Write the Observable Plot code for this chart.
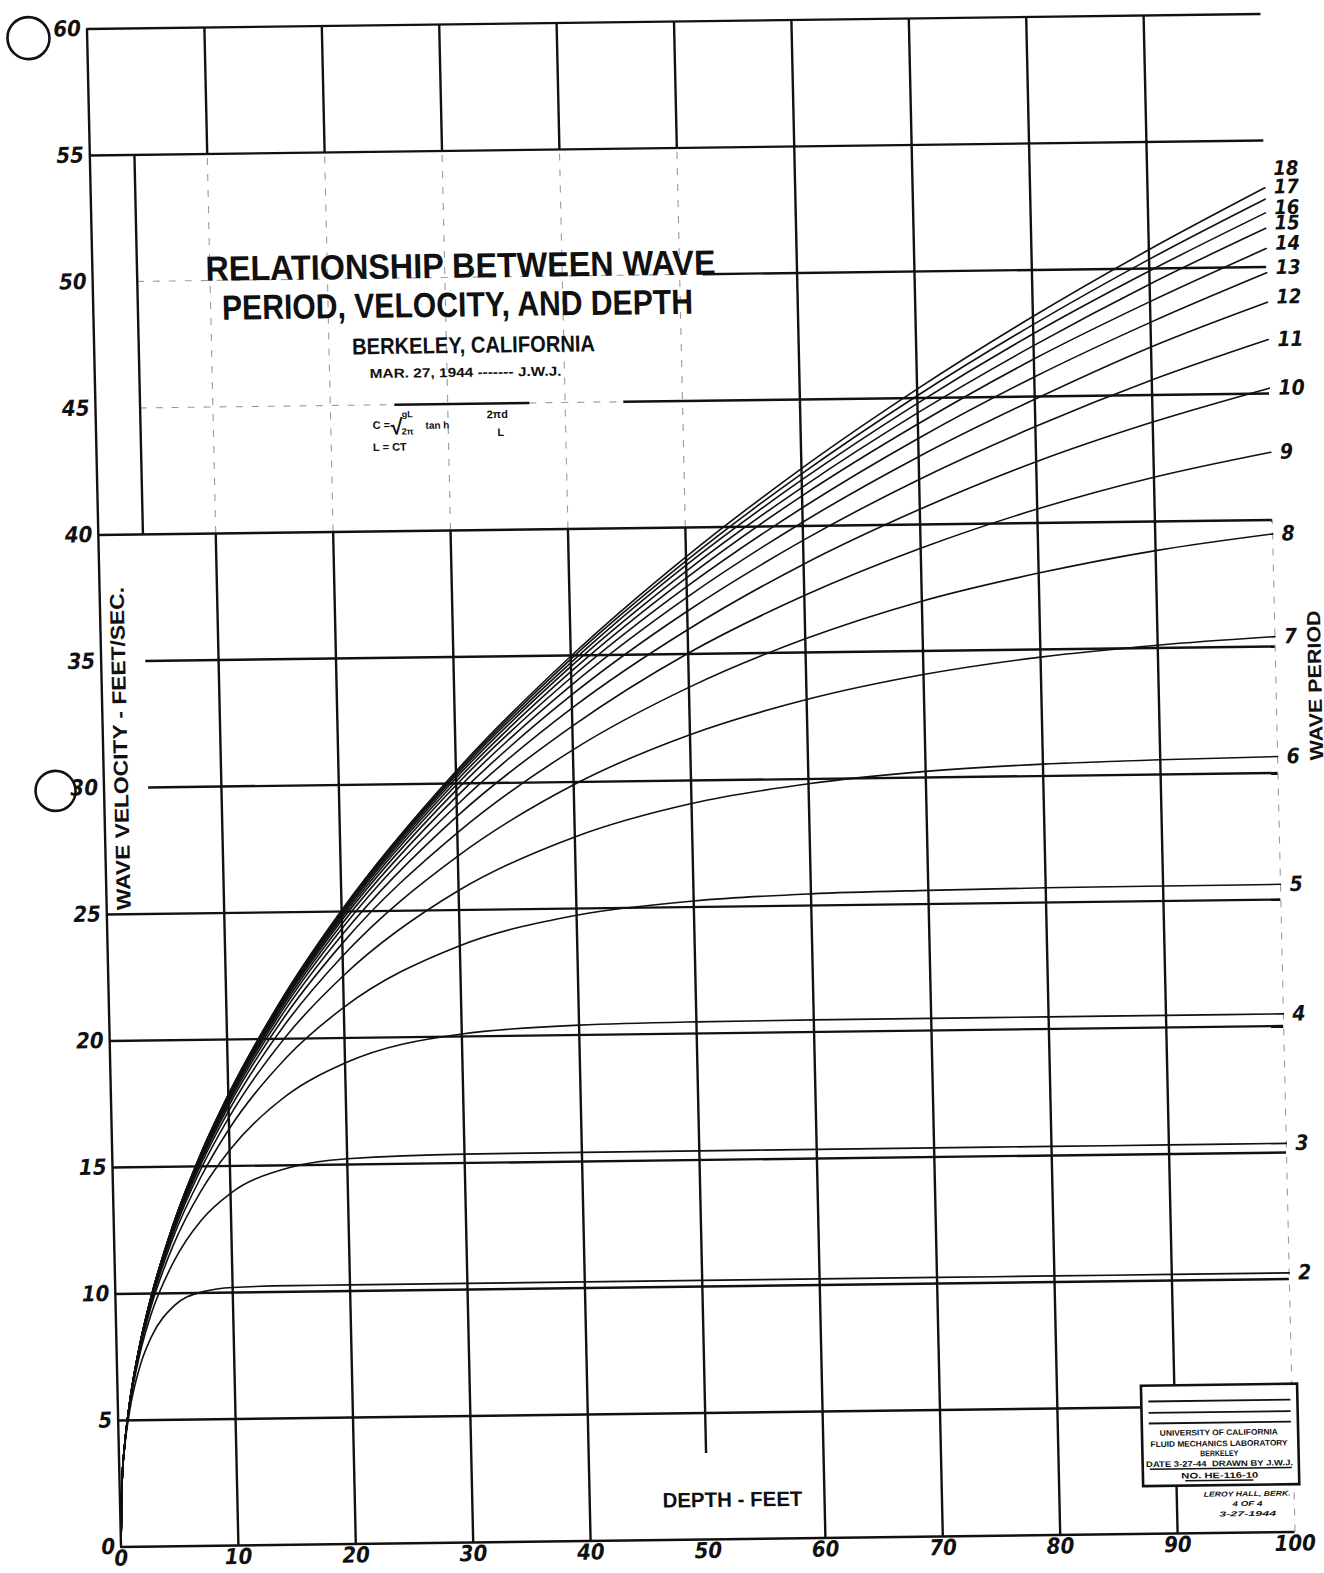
<!DOCTYPE html>
<html>
<head>
<meta charset="utf-8">
<script src="https://cdn.jsdelivr.net/npm/d3@7"></script>
<script src="https://cdn.jsdelivr.net/npm/@observablehq/plot@0.6"></script>
<style>
html, body { margin: 0; padding: 0; background: #fff; overflow: hidden; }
#chart { width: 1324px; height: 1573px; position: relative; }
</style>
</head>
<body>
<div id="chart"></div>
<script>
// ---- data ----
const depths = [0, 0.25, 0.5, 1, 2, 3, 5, 7.5, 10, 15, 20, 30, 40, 50, 60, 70, 80, 90, 100];
const periods = [2, 3, 4, 5, 6, 7, 8, 9, 10, 11, 12, 13, 14, 15, 16, 17, 18];
const v2  = [0, 2.80, 3.91, 5.38, 7.19, 8.30, 9.51, 10.05, 10.20, 10.24, 10.24, 10.24, 10.24, 10.24, 10.24, 10.24, 10.24, 10.24, 10.24];
const v3  = [0, 2.82, 3.97, 5.54, 7.66, 9.17, 11.22, 12.89, 13.92, 14.90, 15.23, 15.35, 15.36, 15.36, 15.36, 15.36, 15.36, 15.36, 15.36];
const v4  = [0, 2.83, 3.99, 5.60, 7.82, 9.45, 11.87, 14.03, 15.62, 17.77, 19.01, 20.10, 20.39, 20.46, 20.48, 20.48, 20.48, 20.48, 20.48];
const v5  = [0, 2.83, 4.00, 5.63, 7.89, 9.58, 12.17, 14.57, 16.46, 19.25, 21.21, 23.59, 24.73, 25.24, 25.46, 25.54, 25.58, 25.59, 25.60];
const v6  = [0, 2.83, 4.00, 5.64, 7.93, 9.66, 12.32, 14.87, 16.91, 20.08, 22.45, 25.77, 27.83, 29.09, 29.81, 30.24, 30.47, 30.58, 30.65];
const v7  = [0, 2.83, 4.00, 5.65, 7.95, 9.70, 12.42, 15.05, 17.18, 20.59, 23.24, 27.13, 29.89, 31.81, 33.14, 34.07, 34.70, 35.11, 35.39];
const v8  = [0, 2.83, 4.01, 5.65, 7.97, 9.73, 12.48, 15.16, 17.36, 20.91, 23.74, 28.05, 31.27, 33.68, 35.54, 36.97, 38.02, 38.85, 39.45];
const v9  = [0, 2.83, 4.01, 5.66, 7.98, 9.75, 12.52, 15.24, 17.48, 21.13, 24.08, 28.70, 32.21, 35.03, 37.25, 39.06, 40.55, 41.75, 42.68];
const v10 = [0, 2.83, 4.01, 5.66, 7.99, 9.76, 12.55, 15.30, 17.57, 21.29, 24.33, 29.14, 32.92, 35.96, 38.49, 40.60, 42.42, 43.93, 45.21];
const v11 = [0, 2.83, 4.01, 5.66, 7.99, 9.77, 12.58, 15.34, 17.63, 21.41, 24.51, 29.48, 33.44, 36.69, 39.43, 41.78, 43.81, 45.59, 47.13];
const v12 = [0, 2.83, 4.01, 5.66, 8.00, 9.78, 12.59, 15.37, 17.68, 21.50, 24.65, 29.74, 33.83, 37.24, 40.15, 42.68, 44.89, 46.90, 48.61];
const v13 = [0, 2.84, 4.01, 5.67, 8.00, 9.79, 12.61, 15.39, 17.72, 21.57, 24.75, 29.94, 34.13, 37.66, 40.72, 43.40, 45.77, 47.87, 49.77];
const v14 = [0, 2.84, 4.01, 5.67, 8.00, 9.79, 12.62, 15.41, 17.75, 21.62, 24.84, 30.09, 34.37, 38.01, 41.19, 43.97, 46.48, 48.69, 50.73];
const v15 = [0, 2.84, 4.01, 5.67, 8.01, 9.80, 12.63, 15.43, 17.77, 21.67, 24.90, 30.22, 34.57, 38.28, 41.52, 44.41, 47.01, 49.38, 51.53];
const v16 = [0, 2.84, 4.01, 5.67, 8.01, 9.80, 12.63, 15.44, 17.79, 21.70, 24.96, 30.32, 34.72, 38.51, 41.82, 44.79, 47.48, 49.90, 52.14];
const v17 = [0, 2.84, 4.01, 5.67, 8.01, 9.80, 12.64, 15.45, 17.81, 21.73, 25.01, 30.40, 34.86, 38.68, 42.06, 45.09, 47.84, 50.36, 52.68];
const v18 = [0, 2.84, 4.01, 5.67, 8.01, 9.81, 12.64, 15.46, 17.82, 21.76, 25.05, 30.48, 34.97, 38.84, 42.27, 45.35, 48.16, 50.74, 53.13];
const velocities = [v2, v3, v4, v5, v6, v7, v8, v9, v10, v11, v12, v13, v14, v15, v16, v17, v18];

const xTicks = [0, 10, 20, 30, 40, 50, 60, 70, 80, 90, 100];
const yTicks = [0, 5, 10, 15, 20, 25, 30, 35, 40, 45, 50, 55, 60];

const titleLines = ["RELATIONSHIP BETWEEN WAVE", "PERIOD, VELOCITY, AND DEPTH", "BERKELEY, CALIFORNIA", "MAR. 27, 1944 ------- J.W.J."];
const stampLines = ["UNIVERSITY OF CALIFORNIA", "FLUID MECHANICS LABORATORY", "BERKELEY", "DATE 3-27-44  DRAWN BY J.W.J.", "NO. HE-116-10"];
const stampNotes = ["LEROY HALL, BERK.", "4 OF 4", "3-27-1944"];

// ---- tables built from the arrays ----
const curves = periods.flatMap((T, i) => depths.map((d, j) => ({T, depth: d, vel: velocities[i][j]})));
const last = depths.length - 1;
const ends = periods.map((T, i) => ({T, depth: depths[last], vel: velocities[i][last]}));

const INK = "#111";
const NUM_FONT = "'Liberation Sans Narrow', 'DejaVu Sans Condensed', 'Liberation Sans', 'DejaVu Sans', sans-serif";
const TXT_FONT = "'Liberation Sans', 'DejaVu Sans', Arial, sans-serif";
const grid = {stroke: INK, strokeWidth: 2.4};
const faint = {stroke: "#9a9a9a", strokeWidth: 1.1, strokeDasharray: "7,9"};
const tx = (extra) => Object.assign({fill: INK, fontFamily: TXT_FONT, fontStyle: "normal", fontWeight: "bold"}, extra);

const chart = Plot.plot({
  width: 1324,
  height: 1573,
  marginLeft: 100,
  marginRight: 50,
  marginTop: 28.5,
  marginBottom: 26.5,
  x: {domain: [0, 100]},
  y: {domain: [0, 60]},
  style: {background: "#fff", color: INK, fontFamily: NUM_FONT, fontStyle: "italic", fontWeight: "bold", fontSize: "22px"},
  marks: [
    // faint dashed construction lines
    Plot.ruleX([10, 20, 30, 40, 50], {y1: 40, y2: 55, ...faint}),
    Plot.ruleX([100], {y1: 0, y2: 40, ...faint}),
    Plot.ruleY([45], {x1: 3.8, x2: 25.5, ...faint}),
    Plot.ruleY([45], {x1: 37, x2: 45, ...faint}),
    Plot.ruleY([50], {x1: 3.8, x2: 52, ...faint}),
    // solid grid
    Plot.ruleY([0, 5, 10, 15, 20, 25, 40, 55, 60], {x1: 0, x2: 100, ...grid}),
    Plot.ruleY([30, 35], {x1: 3.8, x2: 100, ...grid}),
    Plot.ruleY([45], {x1: 25.5, x2: 37, ...grid}),
    Plot.ruleY([45], {x1: 45, x2: 100, ...grid}),
    Plot.ruleY([50], {x1: 52, x2: 100, ...grid}),
    Plot.ruleX([0], {y1: 0, y2: 60, ...grid}),
    Plot.ruleX([10, 20, 30, 40, 60, 70, 80, 90], {y1: 0, y2: 40, ...grid}),
    Plot.ruleX([50], {y1: 3.4, y2: 40, ...grid}),
    Plot.ruleX([10, 20, 30, 40, 50, 60, 70, 80, 90], {y1: 55, y2: 60, ...grid}),
    Plot.ruleX([60, 70, 80, 90], {y1: 40, y2: 55, ...grid}),
    Plot.ruleX([3.8], {y1: 40, y2: 55, ...grid}),
    // wave-period curves
    Plot.line(curves, {x: "depth", y: "vel", z: "T", curve: "monotone-x", stroke: INK, strokeWidth: 1.6}),
    // curve labels
    Plot.text(ends.filter(d => d.T <= 11), {x: "depth", y: "vel", text: d => String(d.T), dx: 9, textAnchor: "start", fontSize: 21, fill: INK}),
    Plot.text(ends.filter(d => d.T >= 12 && d.T <= 16), {x: "depth", y: "vel", text: d => String(d.T), dx: 9, dy: -5, textAnchor: "start", fontSize: 20, fill: INK}),
    Plot.text(ends.filter(d => d.T === 17), {x: "depth", y: "vel", text: d => String(d.T), dx: 9, dy: -12, textAnchor: "start", fontSize: 20, fill: INK}),
    Plot.text(ends.filter(d => d.T === 18), {x: "depth", y: "vel", text: d => String(d.T), dx: 9, dy: -19, textAnchor: "start", fontSize: 20, fill: INK}),
    // axes
    Plot.axisX({ticks: xTicks, tickSize: 0, tickPadding: 3, fontSize: 22, label: null, tickFormat: d => String(d)}),
    Plot.axisY({ticks: yTicks, tickSize: 0, tickPadding: 6, fontSize: 22, label: null, tickFormat: d => String(d)}),
    // axis titles
    Plot.text(["WAVE VELOCITY - FEET/SEC."], tx({x: 1.5, y: 31.55, text: d => d, rotate: -90, fontSize: 20})),
    Plot.text(["WAVE PERIOD"], tx({x: 103.35, y: 33.44, text: d => d, rotate: -90, fontSize: 19})),
    Plot.text(["DEPTH - FEET"], tx({x: 52.16, y: 1.55, text: d => d, fontSize: 21})),
    // title block
    Plot.text([titleLines[0]], tx({x: 31.35, y: 50.43, text: d => d, fontSize: 35})),
    Plot.text([titleLines[1]], tx({x: 31.02, y: 48.89, text: d => d, fontSize: 35})),
    Plot.text([titleLines[2]], tx({x: 32.31, y: 47.30, text: d => d, fontSize: 23, fontWeight: 900})),
    Plot.text([titleLines[3]], tx({x: 31.58, y: 46.23, text: d => d, fontSize: 13, fontWeight: 900})),
    Plot.text(["C ="], tx({x: 23.56, y: 44.19, text: d => d, fontSize: 11, textAnchor: "start"})),
    Plot.text(["\u221A"], tx({x: 25.09, y: 44.10, text: d => d, fontSize: 22, textAnchor: "start"})),
    Plot.text(["gL"], tx({x: 26.54, y: 44.61, text: d => d, fontSize: 9})),
    Plot.text(["2\u03C0"], tx({x: 26.54, y: 43.93, text: d => d, fontSize: 9})),
    Plot.text(["tan h"], tx({x: 28.07, y: 44.16, text: d => d, fontSize: 10, textAnchor: "start"})),
    Plot.text(["2\u03C0d"], tx({x: 34.20, y: 44.56, text: d => d, fontSize: 11})),
    Plot.text(["L"], tx({x: 34.46, y: 43.85, text: d => d, fontSize: 11})),
    Plot.text(["L = CT"], tx({x: 23.56, y: 43.32, text: d => d, fontSize: 11, textAnchor: "start"})),
    // lower-right stamp
    Plot.rect([0], {x1: 87.2, x2: 100.5, y1: 1.87, y2: 5.84, fill: "#fff", stroke: INK, strokeWidth: 2.6}),
    Plot.ruleY([5.23, 4.78, 4.36], {x1: 87.8, x2: 99.9, stroke: INK, strokeWidth: 1.8}),
    Plot.ruleY([2.55], {x1: 87.8, x2: 99.9, stroke: INK, strokeWidth: 1.5}),
    Plot.ruleY([2.08], {x1: 90.8, x2: 96.6, stroke: INK, strokeWidth: 1.5}),
    Plot.text(stampLines, tx({x: 93.7, y: (d, i) => [3.97, 3.53, 3.14, 2.74, 2.27][i], text: d => d, fontSize: 8})),
    Plot.text(stampNotes, tx({x: 96.0, y: (d, i) => [1.53, 1.14, 0.74][i], text: d => d, fontSize: 7, fontStyle: "italic"})),
    // punched binder holes
    Plot.dot([0], {x: -5.0, y: 59.67, r: 21, stroke: INK, strokeWidth: 2.6, fill: "none"}),
    Plot.dot([0], {x: -4.13, y: 29.91, r: 20, stroke: INK, strokeWidth: 2.6, fill: "none"})
  ]
});

// condensed hand lettering: fit each lettered line to its width on the sheet
const lettering = new Map([
  [titleLines[0], 510], [titleLines[1], 471], [titleLines[2], 243], [titleLines[3], 192],
  ["WAVE VELOCITY - FEET/SEC.", 323], ["WAVE PERIOD", 150], ["DEPTH - FEET", 140],
  [stampLines[0], 118], [stampLines[1], 137], [stampLines[2], 38], [stampLines[3], 147], [stampLines[4], 77],
  [stampNotes[0], 87], [stampNotes[1], 30], [stampNotes[2], 57]
]);
chart.querySelectorAll("text").forEach(t => {
  const len = lettering.get(t.textContent.trim());
  if (len) {
    t.setAttribute("textLength", len);
    t.setAttribute("lengthAdjust", "spacingAndGlyphs");
  }
});

// the sheet was photographed slightly skewed
chart.style.overflow = "visible";
chart.style.transformOrigin = "0 0";
chart.style.transform = "matrix(1, -0.01278, 0.02241, 1, -14.16, 1.28)";
document.getElementById("chart").appendChild(chart);
</script>
</body>
</html>
